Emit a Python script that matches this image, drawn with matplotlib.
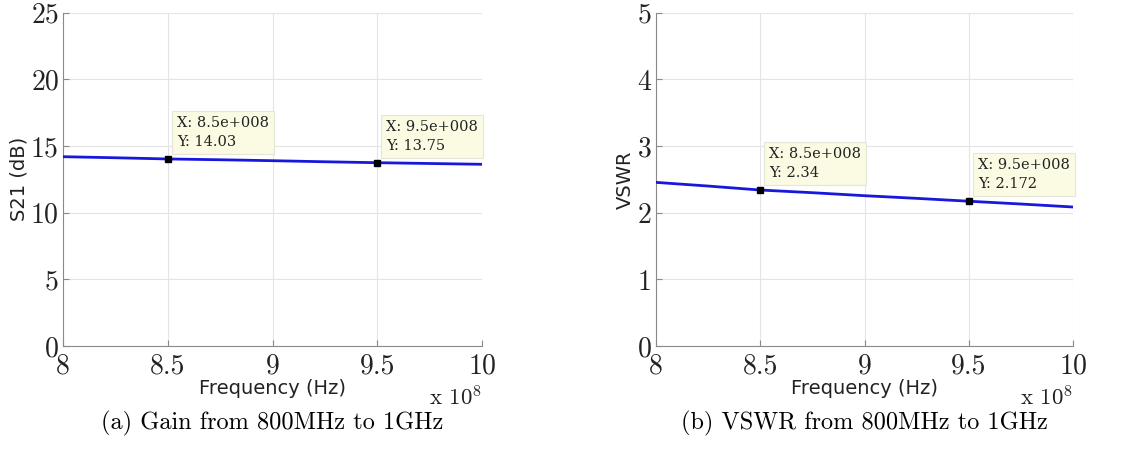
import numpy as np
import matplotlib
matplotlib.use("Agg")
import matplotlib.pyplot as plt
from matplotlib.ticker import FuncFormatter

# frequency sweep, Hz
freq = np.array([8.0, 8.25, 8.5, 8.75, 9.0, 9.25, 9.5, 9.75, 10.0]) * 1e8
gain = [14.20, 14.12, 14.03, 13.97, 13.90, 13.82, 13.75, 13.69, 13.63]   # S21, dB
vswr = [2.455, 2.40, 2.34, 2.30, 2.255, 2.215, 2.172, 2.13, 2.085]

tip_freq = [8.5e8, 9.5e8]
gain_tips = [14.03, 13.75]
vswr_tips = [2.34, 2.172]

captions = ["(a) Gain from 800MHz to 1GHz", "(b) VSWR from 800MHz to 1GHz"]
ylabels = ["S21 (dB)", "VSWR"]
yticks = [[0, 5, 10, 15, 20, 25], [0, 1, 2, 3, 4, 5]]

plt.rcParams['mathtext.fontset'] = 'cm'
TXT = '#222222'
CM = 'cmr10'

fig = plt.figure(figsize=(11.4, 4.51), dpi=100)
rects = [[0.0553, 0.2328, 0.3675, 0.739], [0.5752, 0.2328, 0.3663, 0.739]]


def fmt_x(v, pos):
    return '%g' % (v / 1e8)


for k, (ys, tips) in enumerate([(gain, gain_tips), (vswr, vswr_tips)]):
    ax = fig.add_axes(rects[k])
    ax.plot(freq, ys, color='#1818dc', lw=2, zorder=3)
    ax.plot(tip_freq, tips, ls='none', marker='s', ms=5, color='black', zorder=4)
    ax.set_xlim(8e8, 1e9)
    ax.set_ylim(yticks[k][0], yticks[k][-1])
    ax.set_xticks(np.arange(8e8, 1.0001e9, 0.5e8))
    ax.set_yticks(yticks[k])
    ax.xaxis.set_major_formatter(FuncFormatter(fmt_x))
    ax.grid(True, color='#e4e4e4', lw=0.8)
    ax.set_axisbelow(True)
    for s in ['top', 'right']:
        ax.spines[s].set_visible(False)
    for s in ['left', 'bottom']:
        ax.spines[s].set_color('#8a8a8a')
    ax.tick_params(direction='in', length=4, color='#8a8a8a', labelcolor=TXT,
                   labelsize=20, pad=3)
    ax.tick_params(axis='x', pad=5)
    for lab in ax.get_xticklabels() + ax.get_yticklabels():
        lab.set_fontfamily(CM)
    ax.set_xlabel('Frequency (Hz)', fontsize=14, color=TXT, labelpad=0)
    ax.set_ylabel(ylabels[k], fontsize=14, color=TXT, labelpad=2)
    ax.text(1.0, -0.153, r'x $10^{8}$', transform=ax.transAxes, ha='right', va='center',
            fontsize=16.5, family=CM, color=TXT)
    ax.text(0.5, -0.231, captions[k], transform=ax.transAxes,
            ha='center', va='center', fontsize=17.5, family=CM, color='black')
    # data tips
    for fx, fy in zip(tip_freq, tips):
        ax.annotate('X: %.1fe+008\nY: %g' % (fx / 1e8, fy), xy=(fx, fy),
                    xytext=(9, 10), textcoords='offset pixels', ha='left', va='bottom',
                    fontsize=10.5, family='DejaVu Serif', color=TXT, linespacing=1.45,
                    bbox=dict(boxstyle='square,pad=0.35', fc='#fbfbe4', ec='#e6e6d8', lw=0.8),
                    zorder=5)

fig.savefig('out.png', dpi=100)
